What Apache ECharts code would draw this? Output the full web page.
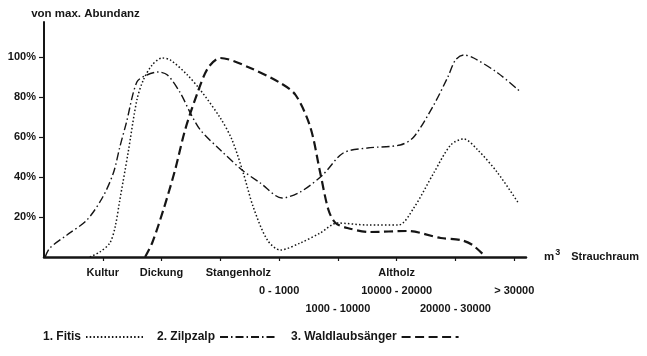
<!DOCTYPE html>
<html>
<head>
<meta charset="utf-8">
<script src="https://cdn.jsdelivr.net/npm/echarts@6/dist/echarts.min.js"></script>
<style>
  html, body { margin: 0; padding: 0; background: #fff; }
  #chart { width: 647px; height: 356px; }
</style>
</head>
<body>
<div id="chart"></div>
<script>
// axis ticks and labels
const xTicks = [1, 2, 3, 4, 5, 6, 7, 8];
const stageLabels = ['Kultur', 'Dickung', 'Stangenholz', '', '', 'Altholz', '', ''];
const volumeRowA = ['', '', '', '0 - 1000', '', '10000 - 20000', '', '> 30000'];
const volumeRowB = ['', '', '', '', '1000 - 10000', '', '20000 - 30000', ''];
const yTicks = [20, 40, 60, 80, 100];

// [x, % of max. abundance]
const fitis = [
  [0.78, 0], [0.95, 2.5], [1.12, 7], [1.21, 15], [1.29, 28.5], [1.43, 52], [1.58, 78.5],
  [1.69, 88.5], [1.84, 96], [2.01, 99.5], [2.15, 98.5], [2.44, 91], [2.66, 83.5], [3.0, 69.5],
  [3.2, 58.5], [3.39, 42], [3.56, 25], [3.8, 8.5], [4.02, 3.5], [4.36, 7], [4.7, 12],
  [4.99, 17], [5.5, 16], [6.03, 16], [6.29, 24.5], [6.63, 42], [6.92, 56], [7.14, 59],
  [7.38, 53.5], [7.72, 42], [8.07, 27]
];
const zilpzalp = [
  [0.02, 0], [0.1, 4.5], [0.39, 11], [0.73, 18.5], [1.0, 30], [1.18, 42], [1.29, 55],
  [1.4, 67], [1.58, 87.5], [1.75, 91], [1.94, 92.5], [2.1, 91], [2.32, 82], [2.49, 72],
  [2.66, 63.5], [3.0, 53.5], [3.37, 43.5], [3.68, 37], [4.05, 29.5], [4.36, 32.5], [4.74, 41],
  [5.09, 52], [5.5, 54.5], [6.06, 56], [6.29, 60], [6.63, 76], [6.87, 90], [7.0, 98.5],
  [7.14, 101], [7.31, 99.5], [7.72, 92], [8.11, 82.5]
];
const waldlaubsaenger = [
  [1.72, 0], [1.84, 7], [2.03, 23.5], [2.23, 43.5], [2.4, 63.5], [2.61, 82], [2.79, 94.5],
  [3.0, 99.5], [3.51, 94.5], [4.02, 87], [4.28, 81], [4.53, 65], [4.7, 42], [4.84, 23.5],
  [4.96, 17], [5.16, 14.5], [5.55, 12.5], [6.18, 13], [6.75, 9.5], [7.09, 8.5], [7.29, 6],
  [7.48, 1]
];

const ink = '#151515';
const font = 'Liberation Sans, Arial, sans-serif';

function xLabel(value) {
  const i = xTicks.indexOf(value);
  if (i < 0) return '';
  let top = stageLabels[i] || ' ';
  if (top === 'Stangenholz') top = '{s|' + top + '}';
  return [top, volumeRowA[i] || ' ', volumeRowB[i] || ' '].join('\n');
}

const chart = echarts.init(document.getElementById('chart'));

chart.setOption({
  animation: false,
  backgroundColor: '#fff',
  color: [ink, ink, ink],
  textStyle: { fontFamily: font, color: ink },
  grid: { left: 44, right: 121, top: 22, bottom: 99 },
  legend: {
    left: 38,
    top: 326,
    align: 'right',
    itemWidth: 57,
    itemHeight: 14,
    itemGap: 13,
    itemStyle: { opacity: 0 },
    textStyle: { fontFamily: font, fontSize: 12, fontWeight: 'bold', color: ink },
    data: ['1. Fitis', '2. Zilpzalp', '3. Waldlaubsänger']
  },
  xAxis: {
    type: 'value',
    min: 0,
    max: 8.2,
    name: '{m|m}{sup|3}{t|Strauchraum}',
    nameLocation: 'end',
    nameGap: 18,
    nameTextStyle: {
      rich: {
        m: { fontFamily: font, fontSize: 11.5, fontWeight: 'bold', color: ink },
        sup: { fontFamily: font, fontSize: 9, fontWeight: 'bold', color: ink, verticalAlign: 'bottom', padding: [0, 0, 8, 1] },
        t: { fontFamily: font, fontSize: 11, fontWeight: 'bold', color: ink, padding: [0, 0, 0, 11] }
      }
    },
    axisLine: { lineStyle: { color: ink, width: 2.5 } },
    axisTick: { customValues: xTicks, length: 4, lineStyle: { color: ink, width: 1.2 } },
    axisLabel: {
      customValues: xTicks,
      margin: 7,
      fontFamily: font,
      fontSize: 11,
      fontWeight: 'bold',
      color: ink,
      lineHeight: 18,
      formatter: xLabel,
      rich: {
        s: { fontFamily: font, fontSize: 11, fontWeight: 'bold', color: ink, lineHeight: 18, padding: [0, 0, 0, 36] }
      }
    },
    splitLine: { show: false }
  },
  yAxis: {
    type: 'value',
    min: 0,
    max: 117.5,
    name: 'von max. Abundanz',
    nameLocation: 'end',
    nameGap: 2,
    nameTextStyle: {
      fontFamily: font, fontSize: 11.5, fontWeight: 'bold', color: ink,
      align: 'center', padding: [0, 0, 0, 83]
    },
    axisLine: { lineStyle: { color: ink, width: 2 } },
    axisTick: { customValues: yTicks, length: 5, lineStyle: { color: ink, width: 1.2 } },
    axisLabel: {
      customValues: yTicks,
      margin: 8,
      fontFamily: font,
      fontSize: 11,
      fontWeight: 'bold',
      color: ink,
      padding: [0, 0, 9, 0],
      formatter: function (v) { return v + '%'; }
    },
    splitLine: { show: false }
  },
  series: [
    {
      name: '1. Fitis',
      type: 'line',
      data: fitis,
      smooth: 0.3,
      symbol: 'none',
      itemStyle: { color: ink },
      lineStyle: { color: ink, width: 1.5, type: [1.5, 2.2] }
    },
    {
      name: '2. Zilpzalp',
      type: 'line',
      data: zilpzalp,
      smooth: 0.3,
      symbol: 'none',
      itemStyle: { color: ink },
      lineStyle: { color: ink, width: 1.4, type: [8, 3, 1.5, 3] }
    },
    {
      name: '3. Waldlaubsänger',
      type: 'line',
      data: waldlaubsaenger,
      smooth: 0.3,
      symbol: 'none',
      itemStyle: { color: ink },
      lineStyle: { color: ink, width: 2.2, type: [9, 4.5] }
    }
  ]
});
</script>
</body>
</html>
